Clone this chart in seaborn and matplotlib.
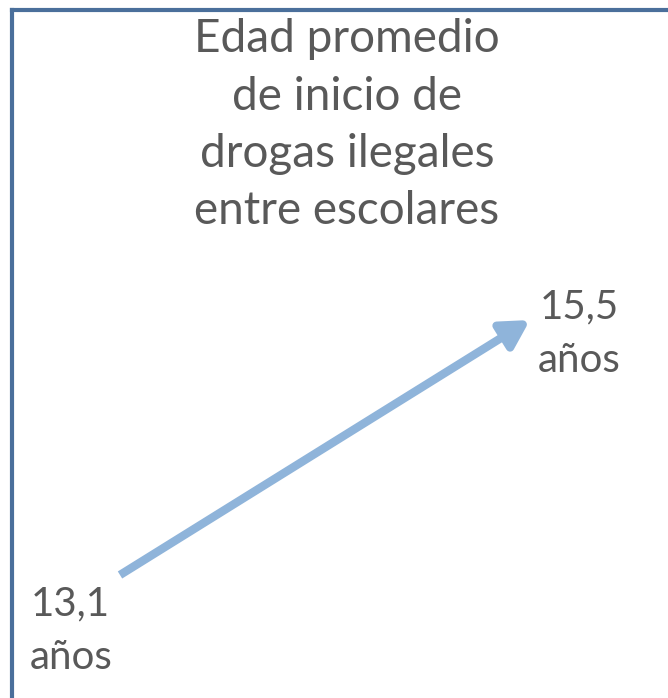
import matplotlib
matplotlib.use("Agg")
import matplotlib.pyplot as plt
import seaborn as sns

# data
points = ["inicio", "fin"]
ages = [13.1, 15.5]
age_labels = ["13,1\naños", "15,5\naños"]
title = "Edad promedio\nde inicio de\ndrogas ilegales\nentre escolares"

sns.set_theme(style="white")
plt.rcParams["font.family"] = ["Lato", "DejaVu Sans"]

text_color = "#595959"
arrow_color = "#8fb4da"
border_color = "#4a6f9b"

fig = plt.figure(figsize=(6.68, 6.98), dpi=100)
ax = fig.add_axes([12 / 668, 0, 656 / 668, 1 - 10 / 698])
ax.set_xlim(-0.2634, 1.3366)
ax.set_ylim(11.942, 18.418)
ax.set_xticks([])
ax.set_yticks([])
for side in ["right", "bottom"]:
    ax.spines[side].set_visible(False)
for side in ["left", "top"]:
    ax.spines[side].set_color(border_color)
    ax.spines[side].set_linewidth(3.0)

# arrow from first age to second
ax.annotate("", xy=(1, ages[1]), xytext=(0, ages[0]),
            arrowprops=dict(arrowstyle="-|>,head_length=0.75,head_width=0.42",
                            lw=6.0, color=arrow_color, mutation_scale=22,
                            shrinkA=0, shrinkB=0, capstyle="butt"))

# value labels
ax.text(-0.12, ages[0] - 0.10, age_labels[0], ha="center", va="top",
        fontsize=29, color=text_color, linespacing=1.55)
ax.text(1.12, ages[1] + 0.30, age_labels[1], ha="center", va="top",
        fontsize=29, color=text_color, linespacing=1.55)

ax.text(0.5107, 0.988, title, transform=ax.transAxes, ha="center", va="top",
        fontsize=33, color=text_color, linespacing=1.45)

fig.savefig("out.png", dpi=100)
